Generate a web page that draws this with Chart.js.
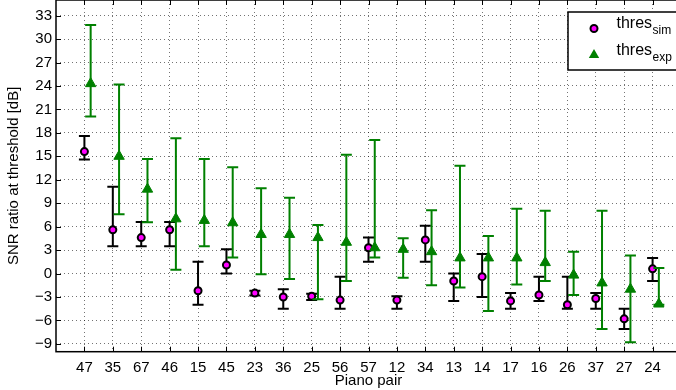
<!DOCTYPE html>
<html>
<head>
<meta charset="utf-8">
<script src="https://cdn.jsdelivr.net/npm/chart.js@4.4.0/dist/chart.umd.min.js"></script>
<style>
  html, body { margin: 0; padding: 0; background: #fff; overflow: hidden; }
  #wrap { width: 676px; height: 390px; overflow: hidden; }
  canvas { display: block; }
</style>
</head>
<body>
<div id="wrap"><canvas id="chart" width="682" height="390"></canvas></div>
<script>
// ── DATA ─────────────────────────────
const pairs = ['47','35','67','46','15','45','23','36','25','56','57','12','34','13','14','17','16','26','37','27','24'];

// simulated threshold (mean, lower, upper) [dB]
const simMean = [15.6, 5.6, 4.6, 5.6, -2.2, 1.1, -2.5, -3.0, -2.9, -3.4, 3.3, -3.4, 4.3, -0.95, -0.4, -3.5, -2.75, -4.0, -3.2, -5.8, 0.6];
const simLow  = [14.6, 3.5, 3.5, 3.5, -4.0, 0.0, -2.8, -4.5, -3.4, -4.5, 1.5, -4.5, 1.5, -3.5, -3.0, -4.5, -3.5, -4.5, -4.5, -7.1, -0.95];
const simHigh = [17.6, 11.1, 6.6, 6.6, 1.5, 3.1, -2.2, -2.0, -2.6, -0.4, 4.6, -2.9, 6.1, 0.0, 2.5, -2.5, -0.4, -0.4, -2.5, -4.5, 2.0];

// experimental threshold (mean, lower, upper) [dB]
const expMean = [24.3, 15.0, 10.8, 7.0, 6.8, 6.5, 5.0, 5.0, 4.6, 4.0, 3.3, 3.1, 2.8, 2.0, 2.0, 2.0, 1.4, -0.2, -1.2, -2.0, -3.9];
const expLow  = [20.1, 7.6, 6.55, 0.5, 3.5, 2.05, -0.1, -0.7, -3.3, -0.95, 2.05, -0.55, -1.5, -1.8, -4.8, -1.4, -0.95, -2.75, -7.1, -8.8, -4.0];
const expHigh = [31.8, 24.2, 14.65, 17.3, 14.65, 13.6, 10.9, 9.7, 6.2, 15.2, 17.1, 4.5, 8.1, 13.8, 4.8, 8.3, 8.05, 2.8, 8.05, 2.3, 0.7];

const yTicks = [-9, -6, -3, 0, 3, 6, 9, 12, 15, 18, 21, 24, 27, 30, 33];

const FONT = "'Liberation Sans', Arial, Helvetica, sans-serif";
const GREEN = '#008000';
const EXP_SHIFT = 0.22;   // experimental markers drawn a bit to the right

// ── PLUGINS ──────────────────────────
const errorBars = {
  id: 'errorBars',
  beforeDatasetDraw(chart, args) {
    const ds = chart.data.datasets[args.index];
    const xs = chart.scales.x, ys = chart.scales.y;
    const ctx = chart.ctx;
    ctx.save();
    ctx.strokeStyle = ds.barColor;
    ctx.lineWidth = 2;
    ds.data.forEach(p => {
      const px = xs.getPixelForValue(p.x);
      const top = ys.getPixelForValue(p.yMax);
      const bot = ys.getPixelForValue(p.yMin);
      ctx.beginPath();
      ctx.moveTo(px, top); ctx.lineTo(px, bot);
      ctx.moveTo(px - 5.5, top); ctx.lineTo(px + 5.5, top);
      ctx.moveTo(px - 5.5, bot); ctx.lineTo(px + 5.5, bot);
      ctx.stroke();
    });
    ctx.restore();
  }
};

const frameAndLegend = {
  id: 'frameAndLegend',
  afterDraw(chart) {
    const { ctx, chartArea: a } = chart;
    const xs = chart.scales.x, ys = chart.scales.y;
    ctx.save();

    // axes box + inward ticks (matlab style)
    ctx.strokeStyle = '#000';
    ctx.lineWidth = 1.5;
    ctx.strokeRect(a.left, a.top, a.right - a.left, a.bottom - a.top);
    ctx.lineWidth = 1;
    ctx.beginPath();
    yTicks.forEach(v => {
      const py = Math.round(ys.getPixelForValue(v)) + 0.5;
      ctx.moveTo(a.left, py); ctx.lineTo(a.left + 5, py);
      ctx.moveTo(a.right, py); ctx.lineTo(a.right - 5, py);
    });
    pairs.forEach((_, i) => {
      const px = Math.round(xs.getPixelForValue(i + 1)) + 0.5;
      ctx.moveTo(px, a.bottom); ctx.lineTo(px, a.bottom - 5);
      ctx.moveTo(px, a.top); ctx.lineTo(px, a.top + 5);
    });
    ctx.stroke();

    // legend
    const lx = 568, ly = 12, lw = 130, lh = 58;
    ctx.fillStyle = '#fff';
    ctx.fillRect(lx, ly, lw, lh);
    ctx.lineWidth = 1.5;
    ctx.strokeRect(lx, ly, lw, lh);

    ctx.beginPath();
    ctx.arc(594, 28.5, 3.5, 0, Math.PI * 2);
    ctx.fillStyle = '#ff00ff';
    ctx.fill();
    ctx.lineWidth = 2;
    ctx.strokeStyle = '#000';
    ctx.stroke();

    ctx.beginPath();
    ctx.moveTo(594, 49); ctx.lineTo(599.2, 58); ctx.lineTo(588.8, 58); ctx.closePath();
    ctx.fillStyle = GREEN;
    ctx.fill();

    ctx.fillStyle = '#000';
    ctx.textBaseline = 'alphabetic';
    ctx.textAlign = 'left';
    const entries = [['sim', 28], ['exp', 55]];
    entries.forEach(([sub, base]) => {
      ctx.font = `16px ${FONT}`;
      ctx.fillText('thres', 616.5, base);
      const w = ctx.measureText('thres').width;
      ctx.font = `12px ${FONT}`;
      ctx.fillText(sub, 616.5 + w + 0.5, base + 6);
    });

    ctx.restore();
  }
};

// ── CHART ────────────────────────────
const simPoints = pairs.map((_, i) => ({ x: i + 1, y: simMean[i], yMin: simLow[i], yMax: simHigh[i] }));
const expPoints = pairs.map((_, i) => ({ x: i + 1 + EXP_SHIFT, y: expMean[i], yMin: expLow[i], yMax: expHigh[i] }));

new Chart(document.getElementById('chart'), {
  type: 'scatter',
  data: {
    datasets: [
      {
        label: 'thres sim',
        data: simPoints,
        order: 2,
        barColor: '#000',
        pointStyle: 'circle',
        pointRadius: 3.5,
        pointBackgroundColor: '#ff00ff',
        pointBorderColor: '#000',
        pointBorderWidth: 2,
      },
      {
        label: 'thres exp',
        data: expPoints,
        order: 1,
        barColor: GREEN,
        pointStyle: 'triangle',
        pointRadius: 6,
        pointBackgroundColor: GREEN,
        pointBorderColor: GREEN,
        pointBorderWidth: 1,
      },
    ],
  },
  options: {
    responsive: false,
    animation: false,
    devicePixelRatio: 1,
    layout: { autoPadding: false, padding: { top: 0, right: 1, bottom: 0, left: 0 } },
    plugins: {
      legend: { display: false },
      tooltip: { enabled: false },
    },
    scales: {
      x: {
        type: 'linear',
        min: 0,
        max: 22,
        afterBuildTicks: s => { s.ticks = pairs.map((_, i) => ({ value: i + 1 })); },
        afterFit: s => { s.height = 38.3; s.paddingLeft = 0; s.paddingRight = 0; },
        ticks: {
          autoSkip: false,
          maxRotation: 0,
          padding: 7,
          color: '#000',
          font: { family: FONT, size: 15 },
          callback: v => pairs[v - 1] ?? '',
        },
        grid: { color: 'rgba(0,0,0,0.55)', lineWidth: 1, drawTicks: false },
        border: { display: false, dash: [1, 3] },
        title: {
          display: true,
          text: 'Piano pair',
          color: '#000',
          font: { family: FONT, size: 15 },
          padding: { top: 0, bottom: 0 },
        },
      },
      y: {
        min: -10,
        max: 35,
        afterBuildTicks: s => { s.ticks = yTicks.map(v => ({ value: v })); },
        afterFit: s => { s.width = 56; s.paddingTop = 0; s.paddingBottom = 0; },
        ticks: {
          padding: 4,
          color: '#000',
          font: { family: FONT, size: 15 },
          callback: v => (v < 0 ? '\u2212' + Math.abs(v) : String(v)),
        },
        grid: { color: 'rgba(0,0,0,0.55)', lineWidth: 1, drawTicks: false },
        border: { display: false, dash: [1, 3] },
        title: {
          display: true,
          text: 'SNR ratio at threshold [dB]',
          color: '#000',
          font: { family: FONT, size: 15 },
          padding: { top: 5, bottom: 0 },
        },
      },
    },
  },
  plugins: [errorBars, frameAndLegend],
});
</script>
</body>
</html>
